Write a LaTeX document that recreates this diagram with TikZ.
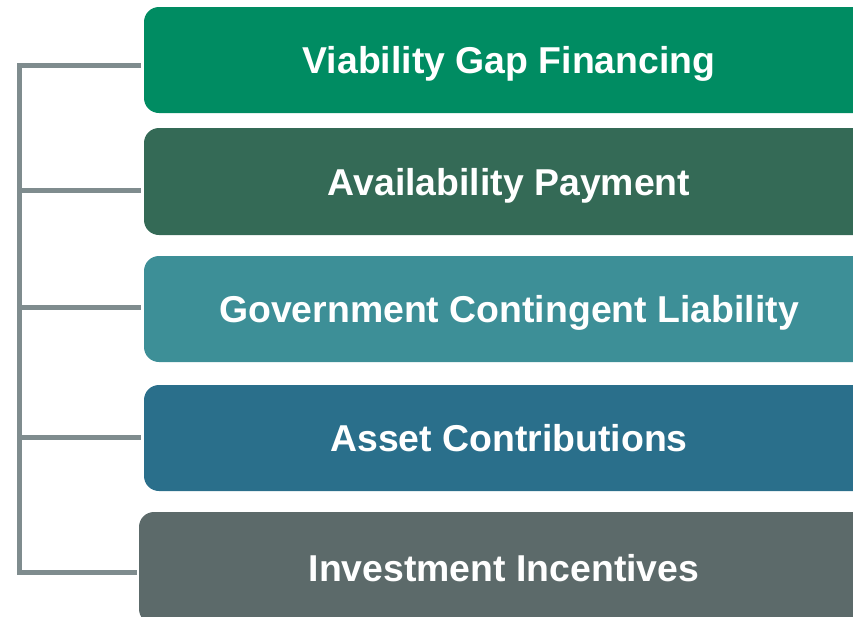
\documentclass[tikz,border=0pt]{standalone}
\usepackage{fontspec}
\setmainfont{Liberation Sans}
\definecolor{cA}{RGB}{0,140,98}
\definecolor{cB}{RGB}{52,106,86}
\definecolor{cC}{RGB}{61,143,151}
\definecolor{cD}{RGB}{42,111,139}
\definecolor{cE}{RGB}{92,106,106}
\definecolor{cLine}{RGB}{127,140,142}
\begin{document}
\begin{tikzpicture}[x=1pt,y=-1pt,
  bar/.style={rounded corners=15pt, minimum width=730pt, inner sep=0pt,
    text height=27pt, text depth=0pt,
    text=white, font=\fontsize{37.4}{40}\selectfont\bfseries},
  spine/.style={draw=cLine, line width=5pt}]
\useasboundingbox (0,0) rectangle (853,616);
\clip (0,0) rectangle (853,616);
\node[bar, fill=cA, minimum height=106pt] (b1) at (509,60) {Viability Gap Financing};
\node[bar, fill=cB, minimum height=107pt] (b2) at (509,181.5) {Availability Payment};
\node[bar, fill=cC, minimum height=106pt] (b3) at (509,309) {Government Contingent Liability};
\node[bar, fill=cD, minimum height=106pt] (b4) at (509,438) {Asset Contributions};
\node[bar, fill=cE, minimum height=112pt] (b5) at (504,568) {Investment Incentives};
\coordinate (s1) at (19,65);
\coordinate (s2) at (19,190);
\coordinate (s3) at (19,307);
\coordinate (s4) at (19,437);
\coordinate (s5) at (19,572);
\draw[spine] ([xshift=-3pt]s1 -| b1.west) -- (s1) -- (s5) -- ([xshift=-2pt]s5 -| b5.west);
\draw[spine] (s2) -- ([xshift=-3pt]s2 -| b2.west);
\draw[spine] (s3) -- ([xshift=-3pt]s3 -| b3.west);
\draw[spine] (s4) -- ([xshift=-3pt]s4 -| b4.west);
\end{tikzpicture}
\end{document}
